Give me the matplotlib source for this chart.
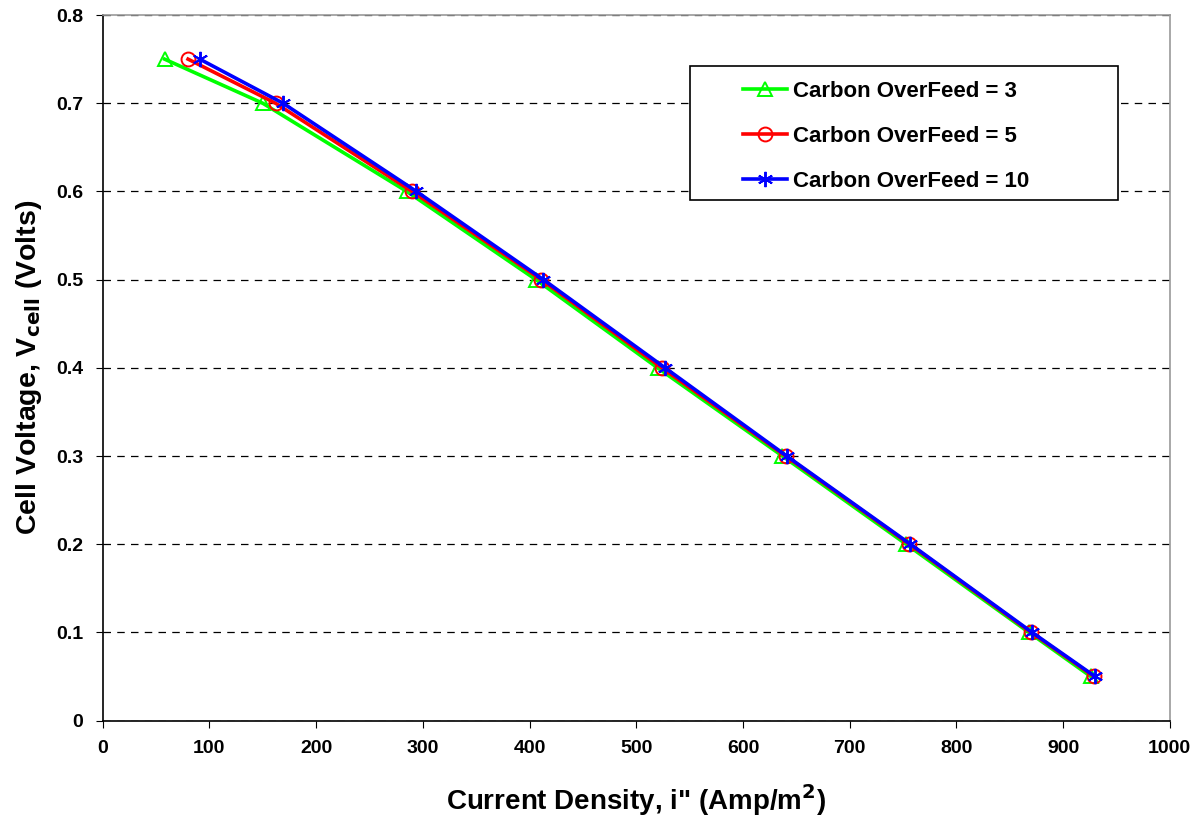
import matplotlib.pyplot as plt
from matplotlib.patches import Rectangle

plt.rcParams["font.family"] = ["Liberation Sans", "DejaVu Sans"]
plt.rcParams["font.weight"] = "bold"

# Cell voltage steps shared by all three runs
voltage = [0.75, 0.7, 0.6, 0.5, 0.4, 0.3, 0.2, 0.1, 0.05]

# Current density (A/m2) for each carbon overfeed ratio
current_of3 = [58, 150, 285, 406, 520, 637, 753, 868, 926]
current_of5 = [80, 162, 290, 411, 524, 640, 756, 870, 929]
current_of10 = [91, 169, 294, 413, 527, 641, 757, 871, 930]

series = [
    (current_of3, "Carbon OverFeed = 3", "#00ff00", "^"),
    (current_of5, "Carbon OverFeed = 5", "#ff0000", "o"),
    (current_of10, "Carbon OverFeed = 10", "#0000ff", "x"),
]

fig = plt.figure(figsize=(12.01, 8.17), dpi=100)
ax = fig.add_axes([0.0855, 0.118, 0.8885, 0.8636])

for x, label, color, marker in series:
    if marker == "x":
        # asterisk-style marker
        ax.plot(x, voltage, color=color, lw=2.6, marker=(6, 2, 0), ms=11,
                mew=1.4, label=label)
    else:
        ax.plot(x, voltage, color=color, lw=2.6, marker=marker, ms=10,
                mfc="none", mec=color, mew=1.4, label=label)

ax.set_xlim(0, 1000)
ax.set_ylim(0, 0.8)
ax.set_xticks(range(0, 1001, 100))
ax.set_yticks([0, 0.1, 0.2, 0.3, 0.4, 0.5, 0.6, 0.7, 0.8])
ax.set_yticklabels(["0", "0.1", "0.2", "0.3", "0.4", "0.5", "0.6", "0.7", "0.8"])
ax.tick_params(axis="both", labelsize=14, length=5, direction="out", pad=9)
for lbl in ax.get_xticklabels() + ax.get_yticklabels():
    lbl.set_fontweight("bold")

ax.yaxis.grid(True, color="black", linestyle=(0, (6, 5)), linewidth=0.9)
ax.set_axisbelow(True)

for side in ("left", "bottom"):
    ax.spines[side].set_color("black")
    ax.spines[side].set_linewidth(1.2)
for side in ("top", "right"):
    ax.spines[side].set_color("#999999")
    ax.spines[side].set_linewidth(1.2)

ax.set_xlabel("Current Density, i\" (Amp/m$^\\mathbf{2}$)", fontsize=20,
              fontweight="bold", labelpad=18)
ax.set_ylabel("Cell Voltage, V$_\\mathbf{cell}$ (Volts)", fontsize=20.5,
              fontweight="bold", labelpad=9)

# legend box is wider than its entries, so the frame is drawn separately
box = Rectangle((0.5503, 0.7378), 0.401, 0.1899, transform=ax.transAxes,
                facecolor="white", edgecolor="black", lw=1.2, zorder=4)
ax.add_patch(box)
leg = ax.legend(loc="center left", bbox_to_anchor=(0.600, 0.8285),
                prop={"size": 16, "weight": "bold"}, frameon=False,
                handlelength=2.0, borderpad=0, borderaxespad=0,
                labelspacing=1.08, handletextpad=0.25)
leg.set_zorder(5)

fig.savefig("out.png", dpi=100)
